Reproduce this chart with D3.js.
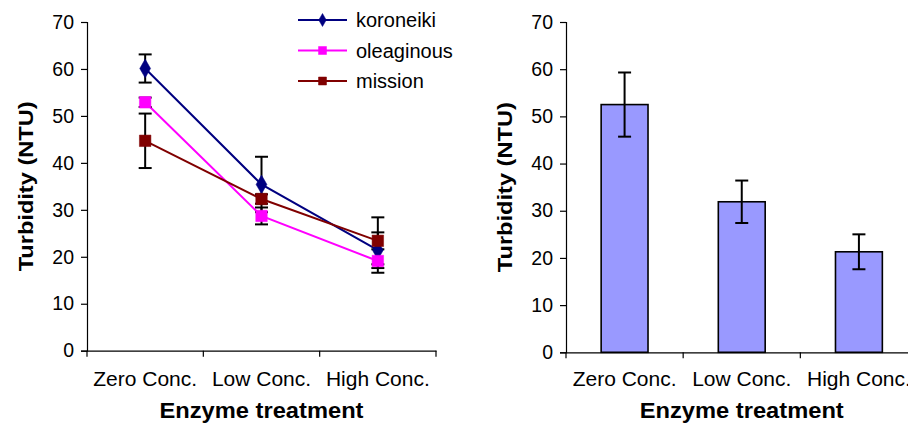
<!DOCTYPE html>
<html>
<head>
<meta charset="utf-8">
<script src="https://cdn.jsdelivr.net/npm/d3@7/dist/d3.min.js"></script>
<style>
  html, body { margin: 0; padding: 0; background: #fff; }
  text { font-family: "Liberation Sans", Arial, sans-serif; fill: #000; }
</style>
</head>
<body>
<svg id="chart" width="908" height="423"></svg>
<script>
// categories and values
const categories = ['Zero Conc.', 'Low Conc.', 'High Conc.'];
const yTicks = [0, 10, 20, 30, 40, 50, 60, 70];

const seriesNames = ['koroneiki', 'oleaginous', 'mission'];
const koroneiki = [60.1, 35.4, 21.4];
const koroneikiErr = [3.0, 5.9, 3.8];
const oleaginous = [52.9, 28.7, 19.1];
const oleaginousErr = [1.0, 1.8, 2.5];
const mission = [44.7, 32.3, 23.4];
const missionErr = [5.8, 1.0, 5.0];

const meanValues = [52.5, 31.9, 21.3];
const meanErr = [6.8, 4.5, 3.7];

const svg = d3.select('#chart');

const series = [
  {name: seriesNames[0], values: koroneiki, err: koroneikiErr, color: '#000080', shape: 'diamond'},
  {name: seriesNames[1], values: oleaginous, err: oleaginousErr, color: '#ff00ff', shape: 'square'},
  {name: seriesNames[2], values: mission, err: missionErr, color: '#800000', shape: 'square'}
];

// draws the y axis, x axis with ticks between categories and the two titles
function drawAxes (g, x, y, opts) {
  const [x0, x1] = x.range();
  const y0 = y(0);

  g.append('g')
    .attr('transform', `translate(${x0},0)`)
    .call(d3.axisLeft(y).tickValues(yTicks).tickSize(6).tickPadding(7))
    .call(a => a.select('.domain').attr('stroke', '#000').attr('stroke-width', 1.2))
    .call(a => a.selectAll('.tick line').attr('stroke', '#000').attr('stroke-width', 1.2))
    .call(a => a.selectAll('.tick text').attr('font-size', 19.5).attr('font-family', '"Liberation Sans", Arial, sans-serif'));

  const xAxis = g.append('g')
    .attr('transform', `translate(0,${y0})`)
    .call(d3.axisBottom(x).tickSize(0).tickPadding(opts.labelPad).tickSizeOuter(0))
    .call(a => a.select('.domain').attr('stroke', '#000').attr('stroke-width', 1.2))
    .call(a => a.selectAll('.tick text').attr('font-size', 21).attr('font-family', '"Liberation Sans", Arial, sans-serif'));

  // tick marks on category borders
  const borders = d3.range(categories.length + 1).map(i => x0 + i * (x1 - x0) / categories.length);
  xAxis.selectAll('line.border')
    .data(borders)
    .join('line')
    .attr('class', 'border')
    .attr('x1', d => d).attr('x2', d => d)
    .attr('y1', 0).attr('y2', 6)
    .attr('stroke', '#000')
    .attr('stroke-width', 1.2);

  g.append('text')
    .attr('x', (x0 + x1) / 2)
    .attr('y', 418)
    .attr('text-anchor', 'middle')
    .attr('font-size', 22)
    .attr('font-weight', 'bold')
    .attr('textLength', 204)
    .attr('lengthAdjust', 'spacingAndGlyphs')
    .text('Enzyme treatment');

  g.append('text')
    .attr('transform', `translate(${opts.titleX},${(y(0) + y(70)) / 2}) rotate(-90)`)
    .attr('text-anchor', 'middle')
    .attr('font-size', 21)
    .attr('font-weight', 'bold')
    .attr('textLength', 170)
    .attr('lengthAdjust', 'spacingAndGlyphs')
    .text('Turbidity (NTU)');
}

function marker (sel, shape, size, color) {
  const sym = shape === 'diamond' ? d3.symbolDiamond : d3.symbolSquare;
  const area = shape === 'diamond' ? size * size * 0.6 : size * size;
  sel.attr('d', d3.symbol(sym, area)())
    .attr('fill', color)
    .attr('stroke', color)
    .attr('stroke-width', 0.5);
}

// ---------- left: line chart ----------
const xL = d3.scaleBand().domain(categories).range([87, 436]).padding(0);
const yL = d3.scaleLinear().domain([0, 70]).range([350.7, 22]);
const gL = svg.append('g');
drawAxes(gL, xL, yL, {labelPad: 20, titleX: 33});

const cx = c => xL(c) + xL.bandwidth() / 2;
const line = d3.line().x((d, i) => cx(categories[i])).y(d => yL(d));

series.forEach(s => {
  gL.append('path')
    .attr('d', line(s.values))
    .attr('fill', 'none')
    .attr('stroke', s.color)
    .attr('stroke-width', 2);
});

series.forEach(s => {
  const eb = gL.append('g').attr('stroke', '#000').attr('stroke-width', 2);
  s.values.forEach((v, i) => {
    const px = cx(categories[i]);
    const hi = yL(v + s.err[i]);
    const lo = yL(v - s.err[i]);
    eb.append('line').attr('x1', px).attr('x2', px).attr('y1', hi).attr('y2', lo);
    eb.append('line').attr('x1', px - 6.5).attr('x2', px + 6.5).attr('y1', hi).attr('y2', hi);
    eb.append('line').attr('x1', px - 6.5).attr('x2', px + 6.5).attr('y1', lo).attr('y2', lo);
  });
});

series.forEach(s => {
  gL.append('g')
    .selectAll('path')
    .data(s.values)
    .join('path')
    .attr('transform', (d, i) => `translate(${cx(categories[i])},${yL(d)})`)
    .call(sel => marker(sel, s.shape, s.shape === 'diamond' ? 13 : 11.5, s.color));
});

// legend
const legend = gL.append('g');
const legendY = [20, 50.5, 81];
series.forEach((s, i) => {
  legend.append('line')
    .attr('x1', 298).attr('x2', 347)
    .attr('y1', legendY[i]).attr('y2', legendY[i])
    .attr('stroke', s.color).attr('stroke-width', 2);
  legend.append('path')
    .attr('transform', `translate(322.5,${legendY[i]})`)
    .call(sel => marker(sel, s.shape, s.shape === 'diamond' ? 9 : 8, s.color));
  legend.append('text')
    .attr('x', 356)
    .attr('y', legendY[i])
    .attr('dy', '0.35em')
    .attr('font-size', 20)
    .text(s.name);
});

// ---------- right: bar chart ----------
const xR = d3.scaleBand().domain(categories).range([566, 917.5]).paddingInner(0.6).paddingOuter(0.3);
const yR = d3.scaleLinear().domain([0, 70]).range([352.3, 22]);
const gR = svg.append('g');
drawAxes(gR, d3.scaleBand().domain(categories).range([566, 917.5]).padding(0), yR, {labelPad: 18.5, titleX: 512});

gR.append('g')
  .selectAll('rect')
  .data(meanValues)
  .join('rect')
  .attr('x', (d, i) => xR(categories[i]))
  .attr('y', d => yR(d))
  .attr('width', xR.bandwidth())
  .attr('height', d => yR(0) - yR(d))
  .attr('fill', '#9999ff')
  .attr('stroke', '#000')
  .attr('stroke-width', 1.6);

const ebR = gR.append('g').attr('stroke', '#000').attr('stroke-width', 2);
meanValues.forEach((v, i) => {
  const px = xR(categories[i]) + xR.bandwidth() / 2;
  const hi = yR(v + meanErr[i]);
  const lo = yR(v - meanErr[i]);
  ebR.append('line').attr('x1', px).attr('x2', px).attr('y1', hi).attr('y2', lo);
  ebR.append('line').attr('x1', px - 6.5).attr('x2', px + 6.5).attr('y1', hi).attr('y2', hi);
  ebR.append('line').attr('x1', px - 6.5).attr('x2', px + 6.5).attr('y1', lo).attr('y2', lo);
});
</script>
</body>
</html>
